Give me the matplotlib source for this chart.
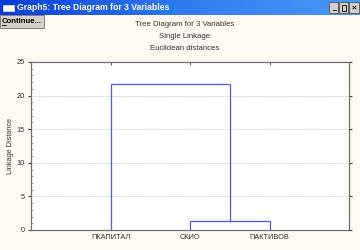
import numpy as np
import matplotlib.pyplot as plt
from matplotlib.patches import Rectangle
from matplotlib.lines import Line2D
from matplotlib.colors import LinearSegmentedColormap
from matplotlib.ticker import MultipleLocator

# Data: leaves of the tree and merge heights (linkage distances)
leaves = ['ПКАПИТАЛ', 'СКИО', 'ПАКТИВОВ']
# each merge joins two members (leaf index or earlier merge 'mK') at a height
merge_left = [1, 0]
merge_right = [2, 'm0']
merge_height = [1.4, 21.7]

titles = ['Tree Diagram for 3 Variables', 'Single Linkage', 'Euclidean distances']
window_title = 'Graph5: Tree Diagram for 3 Variables'

W, H = 360, 250
bg = '#fffaf0'
line_col = '#5555ee'
txt_col = '#333333'

plt.rcParams['font.family'] = ['Liberation Sans', 'DejaVu Sans']
fig = plt.figure(figsize=(W / 100, H / 100), dpi=100, facecolor=bg)

def px(x0, y0, w, h):
    # pixel box (top-left origin) -> figure fraction
    return [x0 / W, 1 - (y0 + h) / H, w / W, h / H]

# window title bar
tb = fig.add_axes(px(0, 0, W, 15))
grad = np.linspace(0, 1, 256)[None, :]
cm = LinearSegmentedColormap.from_list('xp', ['#0a3cd8', '#2f7cf0', '#4a98f8'])
tb.imshow(grad, aspect='auto', cmap=cm, extent=[0, 1, 0, 1])
tb.axis('off')
tb.add_patch(Rectangle((0.008, 0.25), 0.03, 0.45, facecolor='white', edgecolor='#dddddd', lw=0.5))
tb.text(0.048, 0.48, window_title, color='white', fontsize=6.2, fontweight='bold', va='center')
for i in range(3):
    x0 = 0.914 + i * 0.028
    tb.add_patch(Rectangle((x0, 0.12), 0.026, 0.72, facecolor='#d4d0c8', edgecolor='#404040', lw=0.5))
tb.text(0.914 + 0.013, 0.4, '_', fontsize=5, ha='center', va='center', fontweight='bold')
tb.add_patch(Rectangle((0.942 + 0.007, 0.3), 0.012, 0.38, facecolor='none', edgecolor='black', lw=0.6))
tb.text(0.970 + 0.013, 0.46, '×', fontsize=6, ha='center', va='center', fontweight='bold')
tb.set_xlim(0, 1)
tb.set_ylim(0, 1)

# Continue button
fig.patches.append(Rectangle((0, 1 - 28 / H), 44 / W, 13 / H, transform=fig.transFigure,
                             facecolor='#d4d0c8', edgecolor='#707070', lw=0.6))
fig.text(2 / W, 1 - 21.5 / H, 'Continue...', fontsize=5.6, fontweight='bold', va='center')
fig.lines.append(Line2D([2 / W, 6.5 / W], [1 - 24.6 / H, 1 - 24.6 / H], transform=fig.transFigure,
                        color='black', lw=0.6))

# chart titles
for i, t in enumerate(titles):
    fig.text(185 / W, 1 - (25 + 12 * i) / H, t, fontsize=5.6, ha='center', va='center', color=txt_col)

ax = fig.add_axes(px(31, 62, 318, 168), facecolor='white')

# positions of leaves and merged clusters
pos = {i: i + 1 for i in range(len(leaves))}
hgt = {i: 0.0 for i in range(len(leaves))}
for k, (a, b, h) in enumerate(zip(merge_left, merge_right, merge_height)):
    xa, ya = pos[a], hgt[a]
    xb, yb = pos[b], hgt[b]
    ax.plot([xa, xa, xb, xb], [ya, h, h, yb], color=line_col, lw=0.9, solid_joinstyle='miter')
    pos['m%d' % k] = (xa + xb) / 2
    hgt['m%d' % k] = h

ax.set_xlim(0, len(leaves) + 1)
ax.set_ylim(0, 25)
ax.set_xticks(range(1, len(leaves) + 1))
ax.set_xticklabels(leaves, fontsize=5.3, color=txt_col)
ax.tick_params(axis='x', bottom=False, top=True, length=2, direction='in', pad=3, color='#606060')
ax.yaxis.set_major_locator(MultipleLocator(5))
ax.yaxis.set_minor_locator(MultipleLocator(1))
ax.tick_params(axis='y', which='major', left=True, right=True, length=2.5, direction='out',
               labelsize=5.3, labelcolor=txt_col, pad=2, color='#404040')
ax.tick_params(axis='y', which='minor', left=True, length=1.5, direction='in', color='#909090')
ax.grid(axis='y', which='major', color='#bbbbbb', ls=(0, (1, 1)), lw=0.6)
for s in ax.spines.values():
    s.set_color('#707070')
    s.set_linewidth(0.9)
ax.set_ylabel('Linkage Distance', fontsize=5.3, color=txt_col, labelpad=2)

fig.savefig('out.png', dpi=100, facecolor=bg)
